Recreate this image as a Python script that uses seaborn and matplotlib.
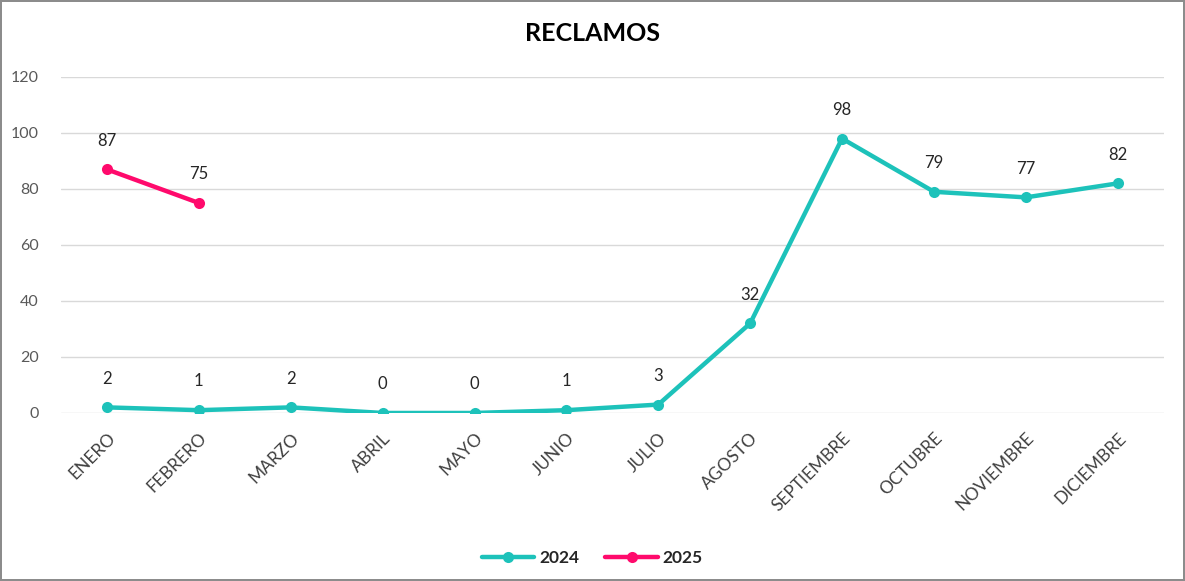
import pandas as pd
import seaborn as sns
import matplotlib.pyplot as plt

sns.set_theme(style="white")
plt.rcParams['font.family'] = ['Lato', 'DejaVu Sans']

# datos
meses = ['ENERO', 'FEBRERO', 'MARZO', 'ABRIL', 'MAYO', 'JUNIO', 'JULIO',
         'AGOSTO', 'SEPTIEMBRE', 'OCTUBRE', 'NOVIEMBRE', 'DICIEMBRE']
reclamos_2024 = [2, 1, 2, 0, 0, 1, 3, 32, 98, 79, 77, 82]
reclamos_2025 = [87, 75]
colores = {'2024': '#1DC2BA', '2025': '#FF0A6C'}

filas = []
for mes, v in zip(meses, reclamos_2024):
    filas.append({'mes': mes, 'valor': v, 'anio': '2024'})
for mes, v in zip(meses, reclamos_2025):
    filas.append({'mes': mes, 'valor': v, 'anio': '2025'})
df = pd.DataFrame(filas)

fig = plt.figure(figsize=(11.85, 5.81), dpi=100, edgecolor='#8c8c8c', linewidth=1.5)
ax = fig.add_axes([0.0515, 0.2892, 0.9305, 0.5783])

sns.lineplot(data=df, x='mes', y='valor', hue='anio', palette=colores,
             marker='o', markersize=8, markeredgewidth=0, linewidth=3.2,
             sort=False, ax=ax, legend=True)

# etiquetas de datos
for anio, vals in [('2024', reclamos_2024), ('2025', reclamos_2025)]:
    for i, v in enumerate(vals):
        ax.annotate(str(v), (i, v), xytext=(0, 15), textcoords='offset points',
                    ha='center', va='bottom', fontsize=12, color='#262626')

ax.set_xlim(-0.5, 11.5)
ax.set_ylim(0, 120)
ax.set_yticks(range(0, 121, 20))
ax.yaxis.grid(True, color='#d9d9d9', linewidth=1)
ax.set_axisbelow(True)
for s in ax.spines.values():
    s.set_visible(False)
ax.tick_params(axis='both', length=0, labelsize=11.5, labelcolor='#595959')
ax.tick_params(axis='y', pad=16)
ax.tick_params(axis='x', pad=12, labelsize=12.5, labelcolor='#404040')
plt.setp(ax.get_xticklabels(), rotation=45, ha='right', rotation_mode='anchor')
ax.set_xlabel('')
ax.set_ylabel('')

fig.text(0.5, 0.943, 'RECLAMOS', ha='center', va='center', fontsize=18,
         fontweight='bold', color='#000000')

handles, labels = ax.get_legend_handles_labels()
ax.legend_.remove()
leg = fig.legend(handles, labels, loc='center', bbox_to_anchor=(0.5, 0.04), ncol=2,
                 frameon=False, fontsize=12.5, handlelength=3, columnspacing=1.5,
                 handletextpad=0.3)
for t in leg.get_texts():
    t.set_fontweight('bold')
    t.set_color('#262626')

fig.savefig('out.png', dpi=100, edgecolor=fig.get_edgecolor())
